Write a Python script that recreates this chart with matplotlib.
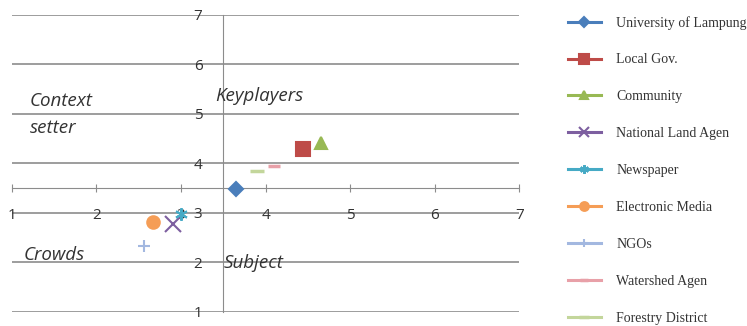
import matplotlib.pyplot as plt

names = ["University of Lampung", "Local Gov.", "Community", "National Land Agen",
         "Newspaper", "Electronic Media", "NGOs", "Watershed Agen", "Forestry District"]
xs = [3.65, 4.44, 4.66, 2.90, 3.00, 2.67, 2.56, 4.10, 3.90]
ys = [3.48, 4.29, 4.42, 2.77, 2.97, 2.82, 2.34, 3.94, 3.84]
colors = ["#4A7EBB", "#BE4B48", "#98B954", "#7D5FA0", "#46AAC5",
          "#F59D56", "#A3B8E0", "#E8A0A8", "#C3D69B"]
markers = ["D", "s", "^", "x", (6, 2, 0), "o", "+", "_", "_"]
msizes = [7, 10, 9, 11, 9, 9, 9, 8, 10]

ticks = [1, 2, 3, 4, 5, 6, 7]
quadrants = [("Context\nsetter", 1.21, 4.99), ("Keyplayers", 3.40, 5.37),
             ("Crowds", 1.14, 2.15), ("Subject", 3.51, 1.98)]

fig = plt.figure(figsize=(7.47, 3.26), dpi=100)
ax = fig.add_axes([0.016, 0.043, 0.679, 0.911])

grey = "#8C8C8C"
for t in ticks:
    ax.axhline(t, color=grey, lw=1.2, zorder=0)

for n, x, y, c, m, s in zip(names, xs, ys, colors, markers, msizes):
    mew = 2.5 if m == "_" else 1.5
    ax.plot([x], [y], linestyle="-", lw=2.2, color=c, marker=m, markersize=s,
            markeredgewidth=mew, label=n, zorder=3)

for txt, x, y in quadrants:
    ax.text(x, y, txt, fontsize=13.5, style="italic", family="Open Sans",
            color="#333333", va="center", ha="left", linespacing=1.65)

ax.set_xlim(1, 7)
ax.set_ylim(1, 7)
ax.set_xticks(ticks)
ax.set_yticks(ticks)
for side in ["top", "right"]:
    ax.spines[side].set_visible(False)
ax.spines["left"].set_position(("data", 3.5))
ax.spines["bottom"].set_position(("data", 3.5))
ax.spines["left"].set_color(grey)
ax.spines["bottom"].set_color(grey)
ax.tick_params(axis="x", direction="inout", length=6, color=grey, pad=11,
               labelsize=11, labelcolor="#333333")
ax.tick_params(axis="y", length=0, pad=15, labelsize=11, labelcolor="#333333")
for lbl in ax.get_xticklabels() + ax.get_yticklabels():
    lbl.set_family("Open Sans")

leg = fig.legend(loc="upper left", bbox_to_anchor=(0.743, 0.99), frameon=False,
                 prop={"family": "Liberation Serif", "size": 10},
                 labelspacing=1.72, handlelength=2.4, handletextpad=1.1,
                 markerscale=0.7)
for t in leg.get_texts():
    t.set_color("#333333")

fig.savefig("out.png", dpi=100)
